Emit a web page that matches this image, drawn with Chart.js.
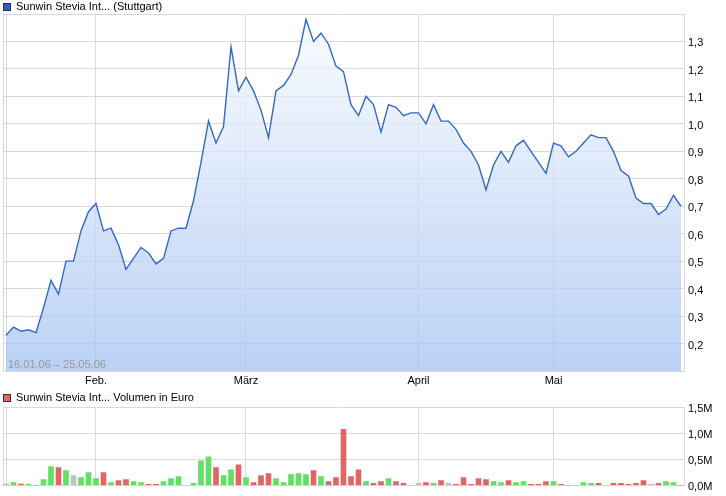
<!DOCTYPE html>
<html>
<head>
<meta charset="utf-8">
<script src="https://cdn.jsdelivr.net/npm/chart.js@4.4.1/dist/chart.umd.min.js"></script>
<style>
  html, body { margin: 0; padding: 0; background: #fff; }
  body { width: 726px; height: 496px; position: relative; overflow: hidden;
         font-family: "Liberation Sans", Arial, sans-serif; font-size: 11px; color: #000; }
  canvas { position: absolute; left: 0; }
  #priceCanvas { top: 0; }
  #volCanvas { top: 392px; }
  .legend { position: absolute; left: 3px; line-height: 13px; white-space: nowrap; }
  .legend i { display: inline-block; width: 6px; height: 6px; border: 1px solid #333;
              vertical-align: top; margin: 3px 5px 0 0; }
  #range { position: absolute; left: 8px; top: 358px; color: #999; line-height: 13px; }
</style>
</head>
<body>
<canvas id="priceCanvas" width="726" height="392"></canvas>
<canvas id="volCanvas" width="726" height="104"></canvas>
<div class="legend" style="top:0px"><i style="background:#2f5fc0"></i>Sunwin Stevia Int... (Stuttgart)</div>
<div class="legend" style="top:391px"><i style="background:#dd6666"></i>Sunwin Stevia Int... Volumen in Euro</div>
<div id="range">16.01.06 – 25.05.06</div>

<script>
// trading days 16.01.06 .. 25.05.06, x = trading day index
const monthIndex = [12, 32, 55, 73];
const monthLabels = ["Feb.", "März", "April", "Mai"];

const priceTicks = [0.2, 0.3, 0.4, 0.5, 0.6, 0.7, 0.8, 0.9, 1.0, 1.1, 1.2, 1.3];
const volumeTicks = [0, 500000, 1000000, 1500000];

const prices = [
  0.23, 0.26, 0.245, 0.25, 0.24, 0.33, 0.43, 0.38, 0.50, 0.50,
  0.61, 0.68, 0.71, 0.61, 0.62, 0.56, 0.47, 0.51, 0.55, 0.53,
  0.49, 0.51, 0.61, 0.62, 0.62, 0.72, 0.86, 1.01, 0.93, 0.99,
  1.28, 1.12, 1.17, 1.12, 1.05, 0.95, 1.12, 1.14, 1.18, 1.25,
  1.38, 1.30, 1.33, 1.29, 1.21, 1.19, 1.07, 1.03, 1.10, 1.07,
  0.97, 1.07, 1.06, 1.03, 1.04, 1.04, 1.00, 1.07, 1.01, 1.01,
  0.98, 0.93, 0.90, 0.85, 0.76, 0.85, 0.90, 0.86, 0.92, 0.94,
  0.90, 0.86, 0.82, 0.93, 0.92, 0.88, 0.90, 0.93, 0.96, 0.95,
  0.95, 0.90, 0.83, 0.81, 0.73, 0.71, 0.71, 0.67, 0.69, 0.74,
  0.70
];

const volumes = [
  25000, 56000, 25000, 25000, 0, 113000, 358000, 339000, 282000, 188000,
  150000, 245000, 132000, 245000, 56000, 94000, 113000, 75000, 56000, 19000,
  19000, 75000, 132000, 170000, 0, 38000, 470000, 546000, 339000, 188000,
  300000, 395000, 150000, 56000, 188000, 226000, 132000, 56000, 207000, 226000,
  207000, 282000, 170000, 75000, 150000, 1073000, 170000, 300000, 75000, 38000,
  75000, 132000, 75000, 38000, 0, 38000, 56000, 38000, 94000, 38000,
  19000, 150000, 19000, 132000, 113000, 75000, 56000, 94000, 56000, 75000,
  19000, 19000, 75000, 75000, 19000, 0, 0, 56000, 38000, 38000,
  0, 38000, 38000, 19000, 38000, 94000, 19000, 38000, 75000, 56000,
  0
];

const GRID = "#d9d9d9";
const FONT = { family: "Liberation Sans", size: 11 };
const X_MIN = -0.4, X_MAX = 90.4;

function xAxis(height, showLabels) {
  return {
    type: "linear", min: X_MIN, max: X_MAX, offset: false,
    afterBuildTicks: (s) => { s.ticks = [X_MIN, 0, ...monthIndex].map((v) => ({ value: v })); },
    afterFit: (s) => { s.height = height; },
    grid: { color: GRID, drawTicks: false, offset: false },
    border: { color: GRID },
    ticks: {
      display: showLabels, padding: 3, color: "#000", font: FONT, maxRotation: 0, autoSkip: false,
      callback: (v) => { const k = monthIndex.indexOf(v); return k >= 0 ? monthLabels[k] : ""; },
    },
  };
}

function yTicks(fmt) {
  return { padding: 4, labelOffset: 2, color: "#000", font: FONT, callback: fmt };
}

Chart.defaults.animation = false;

new Chart(document.getElementById("priceCanvas"), {
  type: "line",
  data: {
    datasets: [{
      data: prices.map((p, i) => ({ x: i, y: p })),
      borderColor: "#3468c8",
      borderWidth: 1.4,
      pointRadius: 0,
      tension: 0,
      fill: "start",
      backgroundColor: (ctx) => {
        const area = ctx.chart.chartArea;
        if (!area) return "rgba(170,198,242,0.75)";
        const g = ctx.chart.ctx.createLinearGradient(0, area.top, 0, area.bottom);
        g.addColorStop(0, "rgba(248,251,255,0.75)");
        g.addColorStop(1, "rgba(164,194,242,0.75)");
        return g;
      },
    }],
  },
  options: {
    responsive: false,
    layout: { padding: { left: 3, top: 14, right: 0, bottom: 0 } },
    plugins: { legend: { display: false }, tooltip: { enabled: false } },
    scales: {
      x: xAxis(21, true),
      y: {
        position: "right", min: 0.1, max: 1.4,
        afterBuildTicks: (s) => { s.ticks = [0.1, ...priceTicks, 1.4].map((v) => ({ value: v })); },
        afterFit: (s) => { s.width = 42; },
        grid: { color: GRID, drawTicks: false },
        border: { color: GRID },
        ticks: yTicks((v) => (v < 0.15 || v > 1.35 ? "" : v.toFixed(1).replace(".", ","))),
      },
    },
  },
});

const barColors = prices.map((p, i) => {
  if (i === 0 || p === prices[i - 1]) return "#c0c0c0";
  return p > prices[i - 1] ? "#66dd66" : "#dd6666";
});

new Chart(document.getElementById("volCanvas"), {
  type: "bar",
  data: {
    datasets: [{
      data: volumes.map((v, i) => ({ x: i, y: v })),
      backgroundColor: barColors,
      barThickness: 5,
      borderWidth: 0,
    }],
  },
  options: {
    responsive: false,
    layout: { padding: { left: 3, top: 15, right: 0, bottom: 0 } },
    plugins: { legend: { display: false }, tooltip: { enabled: false } },
    scales: {
      x: xAxis(9, false),
      y: {
        position: "right", min: 0, max: 1500000,
        afterBuildTicks: (s) => { s.ticks = volumeTicks.map((v) => ({ value: v })); },
        afterFit: (s) => { s.width = 42; },
        grid: { color: GRID, drawTicks: false },
        border: { color: GRID },
        ticks: yTicks((v) => (v / 1e6).toFixed(1).replace(".", ",") + "M"),
      },
    },
  },
});
</script>
</body>
</html>
